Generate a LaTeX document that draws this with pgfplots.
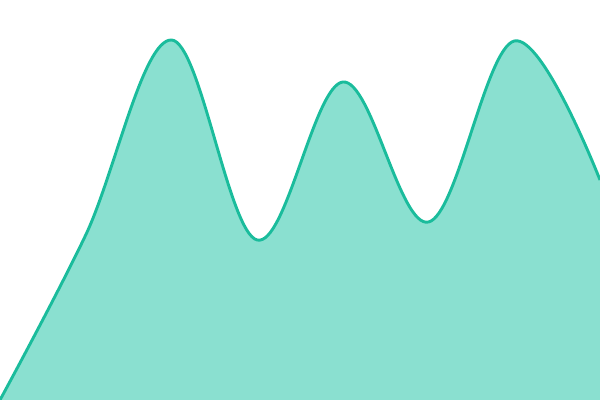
\documentclass[border=0pt]{standalone}
\usepackage{pgfplots}
\pgfplotsset{compat=1.18}
\definecolor{lineteal}{HTML}{1ABC9C}
\definecolor{fillteal}{HTML}{8AE0D0}
\begin{document}
\begin{tikzpicture}
\begin{axis}[
    width=6in, height=4in,
    scale only axis,
    hide axis,
    xmin=0, xmax=7,
    ymin=0, ymax=400,
    ]
\path[use as bounding box] (rel axis cs:0,0) rectangle (rel axis cs:1,1);
\addplot[draw=none, fill=fillteal, smooth, tension=0.6]
    coordinates {(0,0) (1,165) (2,360) (3,160) (4,318) (5,178) (6,359) (7,220)}
    \closedcycle;
\addplot[draw=lineteal, line width=2.1pt, smooth, tension=0.6]
    coordinates {(0,0) (1,165) (2,360) (3,160) (4,318) (5,178) (6,359) (7,220)};
\end{axis}
\end{tikzpicture}
\end{document}
